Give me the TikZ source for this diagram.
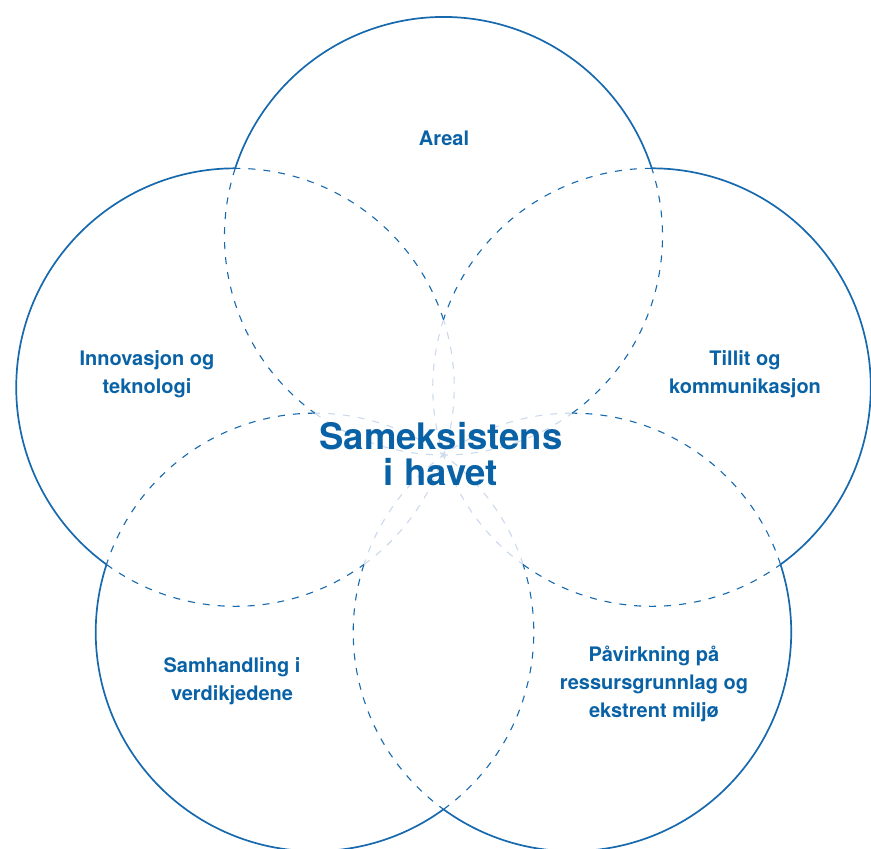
\documentclass[tikz,border=0pt]{standalone}
\usepackage{fontspec}
\setmainfont{TeX Gyre Heros}
\usetikzlibrary{calc}
\definecolor{lineblue}{HTML}{1769AE}
\definecolor{textblue}{HTML}{0A62A6}
\definecolor{lightgray}{HTML}{CCD9EC}
\tikzset{
  solidarc/.style={draw=lineblue, line width=1.7pt},
  dasharc/.style={draw=lineblue, line width=1.1pt, dash pattern=on 7pt off 8pt},
  grayarc/.style={draw=lightgray, line width=1.1pt, dash pattern=on 7pt off 8pt},
  lbl/.style={text=textblue, align=center, font=\bfseries\fontsize{20}{28}\selectfont},
  big/.style={text=textblue, align=center, font=\bfseries\fontsize{36.5}{36}\selectfont}
}
\begin{document}
\begin{tikzpicture}[x=1pt,y=1pt]
\clip (0,0) rectangle (871,849);
\def\R{219}
\coordinate (O) at (443.5,394);
\foreach \t in {90,162,234,306,18}{
  \coordinate (C) at ($(O)+(\t:\R)$);
  \draw[grayarc] (C) ++(\t+144:\R) arc[start angle=\t+144, end angle=\t+216, radius=\R];
}
\foreach \t in {90,162,234,306,18}{
  \coordinate (C) at ($(O)+(\t:\R)$);
  \draw[dasharc] (C) ++(\t+72:\R) arc[start angle=\t+72, end angle=\t+144, radius=\R];
  \draw[dasharc] (C) ++(\t-144:\R) arc[start angle=\t-144, end angle=\t-72, radius=\R];
  \draw[solidarc] (C) ++(\t-72:\R) arc[start angle=\t-72, end angle=\t+72, radius=\R];
}
\node[lbl] (areal) at (444,711) {Areal};
\node[lbl] (innov) at (147,475) {Innovasjon og\\teknologi};
\node[lbl] (tillit) at (745,475) {Tillit og\\kommunikasjon};
\node[lbl] (samh) at (232,168) {Samhandling i\\verdikjedene};
\node[lbl] (pavirk) at (654,165) {Påvirkning på\\ressursgrunnlag og\\ekstrent miljø};
\node[big] (center) at (441,395) {Sameksistens\\i havet};
\end{tikzpicture}
\end{document}
